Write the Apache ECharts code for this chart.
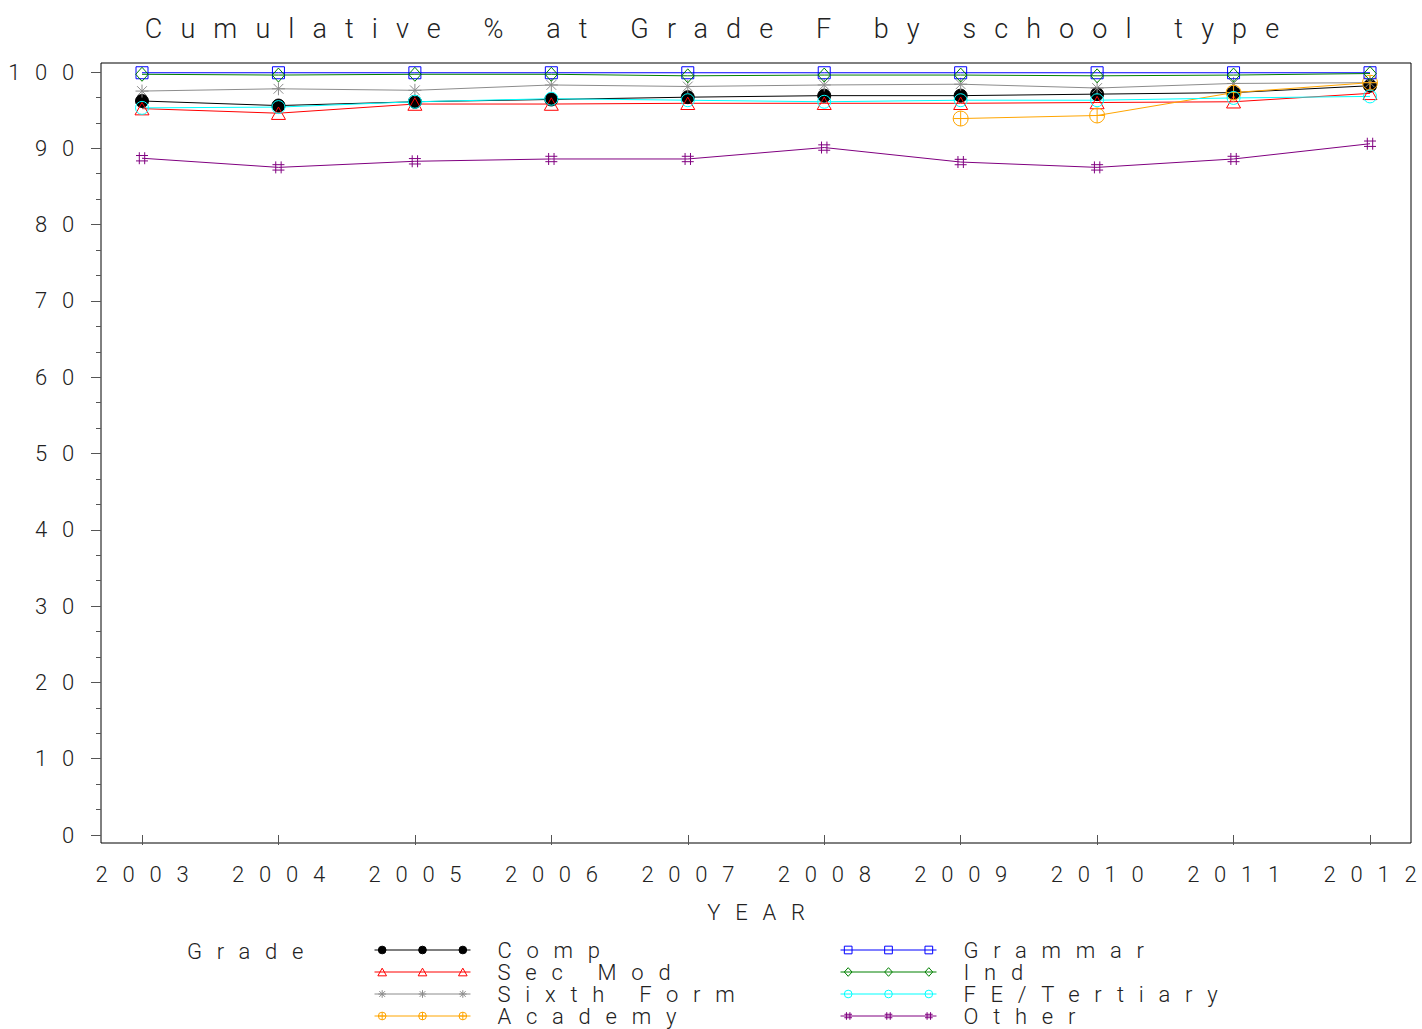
<!DOCTYPE html>
<html><head><meta charset="utf-8">
<script src="https://cdn.jsdelivr.net/npm/echarts@6/dist/echarts.min.js"></script>
<style>
html,body{margin:0;padding:0;background:#fff;}
#chart{width:1422px;height:1029px;}
#chart text{letter-spacing:0.67em;}
</style></head><body><div id="chart"></div>
<script>
const years = ['2003','2004','2005','2006','2007','2008','2009','2010','2011','2012'];
const comp      = [96.2, 95.6, 96.1, 96.4, 96.7, 96.9, 96.9, 97.1, 97.3, 98.2];
const secMod    = [95.2, 94.6, 95.8, 95.8, 95.9, 95.9, 95.9, 96.0, 96.1, 97.2];
const sixthForm = [97.5, 97.8, 97.6, 98.3, 98.1, 98.3, 98.4, 97.9, 98.5, 98.6];
const academy   = [null, null, null, null, null, null, 93.9, 94.3, 97.3, 98.6];
const grammar   = [99.9, 99.9, 99.9, 99.9, 99.9, 99.9, 99.9, 99.9, 99.9, 99.9];
const ind       = [99.7, 99.6, 99.7, 99.7, 99.5, 99.6, 99.6, 99.5, 99.6, 99.8];
const feTertiary= [95.3, 95.4, 96.1, 96.5, 96.3, 96.1, 96.3, 96.3, 96.6, 96.8];
const other     = [88.7, 87.5, 88.3, 88.6, 88.6, 90.1, 88.2, 87.5, 88.6, 90.6];

const FONT = 'Roboto, "Liberation Sans Narrow", "DejaVu Sans Condensed", sans-serif';
const TXT = {fontFamily: FONT, fontWeight: 300, color: '#222', fontSize: 22};

// marker shapes centred at cx in a 10-high box
const mk = {
  circle: cx => `M${cx-4},5A4,4 0 1 1 ${cx+4},5A4,4 0 1 1 ${cx-4},5Z`,
  tri: cx => `M${cx},1L${cx+4.5},9L${cx-4.5},9Z`,
  star: cx => `M${cx-4},5L${cx+4},5M${cx},1L${cx},9M${cx-3},2L${cx+3},8M${cx+3},2L${cx-3},8`,
  cplus: cx => `M${cx-4},5A4,4 0 1 1 ${cx+4},5A4,4 0 1 1 ${cx-4},5ZM${cx-4},5L${cx+4},5M${cx},1L${cx},9`,
  square: cx => `M${cx-4},1L${cx+4},1L${cx+4},9L${cx-4},9Z`,
  diamond: cx => `M${cx},0.5L${cx+4},5L${cx},9.5L${cx-4},5Z`,
  hash: cx => `M${cx-1.8},1L${cx-1.8},9M${cx+1.8},1L${cx+1.8},9M${cx-4},3.2L${cx+4},3.2M${cx-4},6.8L${cx+4},6.8`
};
const symPath = k => 'path://' + mk[k](5);
const legendIcon = k => 'path://M0,5L100,5' + mk[k](8) + mk[k](50) + mk[k](92);

const defs = [
  {name:'Comp', data:comp, color:'#000000', shape:'circle', filled:true, size:13},
  {name:'Sec Mod', data:secMod, color:'#ff0000', shape:'tri', size:14},
  {name:'Sixth Form', data:sixthForm, color:'#8c8c8c', shape:'star', size:13},
  {name:'Academy', data:academy, color:'#ffa500', shape:'cplus', size:15},
  {name:'Grammar', data:grammar, color:'#0000ff', shape:'square', size:12},
  {name:'Ind', data:ind, color:'#008000', shape:'diamond', size:14},
  {name:'FE/Tertiary', data:feTertiary, color:'#00ffff', shape:'circle', size:13},
  {name:'Other', data:other, color:'#800080', shape:'hash', size:12}
];

const series = defs.map(d => ({
  name: d.name, type: 'line', data: d.data,
  xAxisIndex: 0, yAxisIndex: 0,
  symbol: d.filled ? 'circle' : symPath(d.shape),
  symbolSize: d.size, symbolKeepAspect: true,
  showSymbol: true, clip: false, connectNulls: false,
  lineStyle: {color: d.color, width: 1},
  itemStyle: d.filled ? {color: d.color, borderColor: d.color, borderWidth: 1}
                      : {color: 'none', borderColor: d.color, borderWidth: 1},
  emphasis: {disabled: true},
  animation: false
}));

const legendItem = d => ({
  name: d.name,
  icon: legendIcon(d.shape),
  itemStyle: d.filled ? {color: d.color, borderColor: d.color, borderWidth: 1}
                      : {color: 'none', borderColor: d.color, borderWidth: 1}
});
const legendBase = {
  orient: 'vertical', top: 939, itemWidth: 96, itemHeight: 11, itemGap: 0, padding: 0,
  selectedMode: false,
  textStyle: Object.assign({}, TXT, {lineHeight: 22, padding: [0,0,0,22]})
};

const option = {
  animation: false,
  backgroundColor: '#fff',
  title: [
    {text: 'Cumulative % at Grade F by school type', left: 716, textAlign: 'center', top: 10,
     textStyle: Object.assign({}, TXT, {fontSize: 27})},
    {text: 'Grade', left: 187, top: 940, textAlign: 'left', padding: 0,
     textStyle: Object.assign({}, TXT)}
  ],
  legend: [
    Object.assign({}, legendBase, {left: 372, data: defs.slice(0,4).map(legendItem)}),
    Object.assign({}, legendBase, {left: 838, data: defs.slice(4).map(legendItem)})
  ],
  grid: [
    {left: 142, right: 52, top: 72, bottom: 194, containLabel: false},
    {left: 101, right: 11, top: 63, bottom: 186, show: true, borderColor: '#000', borderWidth: 1, backgroundColor: 'transparent'}
  ],
  xAxis: [
    {type: 'category', data: years, boundaryGap: false, gridIndex: 0, offset: 8,
     axisLine: {show: false},
     axisTick: {show: true, length: 10, lineStyle: {color: '#555'}},
     axisLabel: Object.assign({}, TXT, {margin: 20, padding: [0,0,0,15]}),
     name: 'YEAR', nameLocation: 'middle', nameGap: 58,
     nameTextStyle: Object.assign({}, TXT, {padding: [0,0,0,15]})},
    {type: 'value', gridIndex: 1, show: false, min: 0, max: 1}
  ],
  yAxis: [
    {type: 'value', min: 0, max: 100, interval: 10, gridIndex: 0, offset: 41,
     axisLine: {show: false},
     axisTick: {show: true, length: 10, lineStyle: {color: '#555'}},
     minorTick: {show: true, splitNumber: 3, length: 5, lineStyle: {color: '#555'}},
     splitLine: {show: false},
     axisLabel: Object.assign({}, TXT, {margin: 12})},
    {type: 'value', gridIndex: 1, show: false, min: 0, max: 1}
  ],
  series: series
};

const chart = echarts.init(document.getElementById('chart'), null, {renderer: 'svg'});
chart.setOption(option);
</script>
</body></html>
